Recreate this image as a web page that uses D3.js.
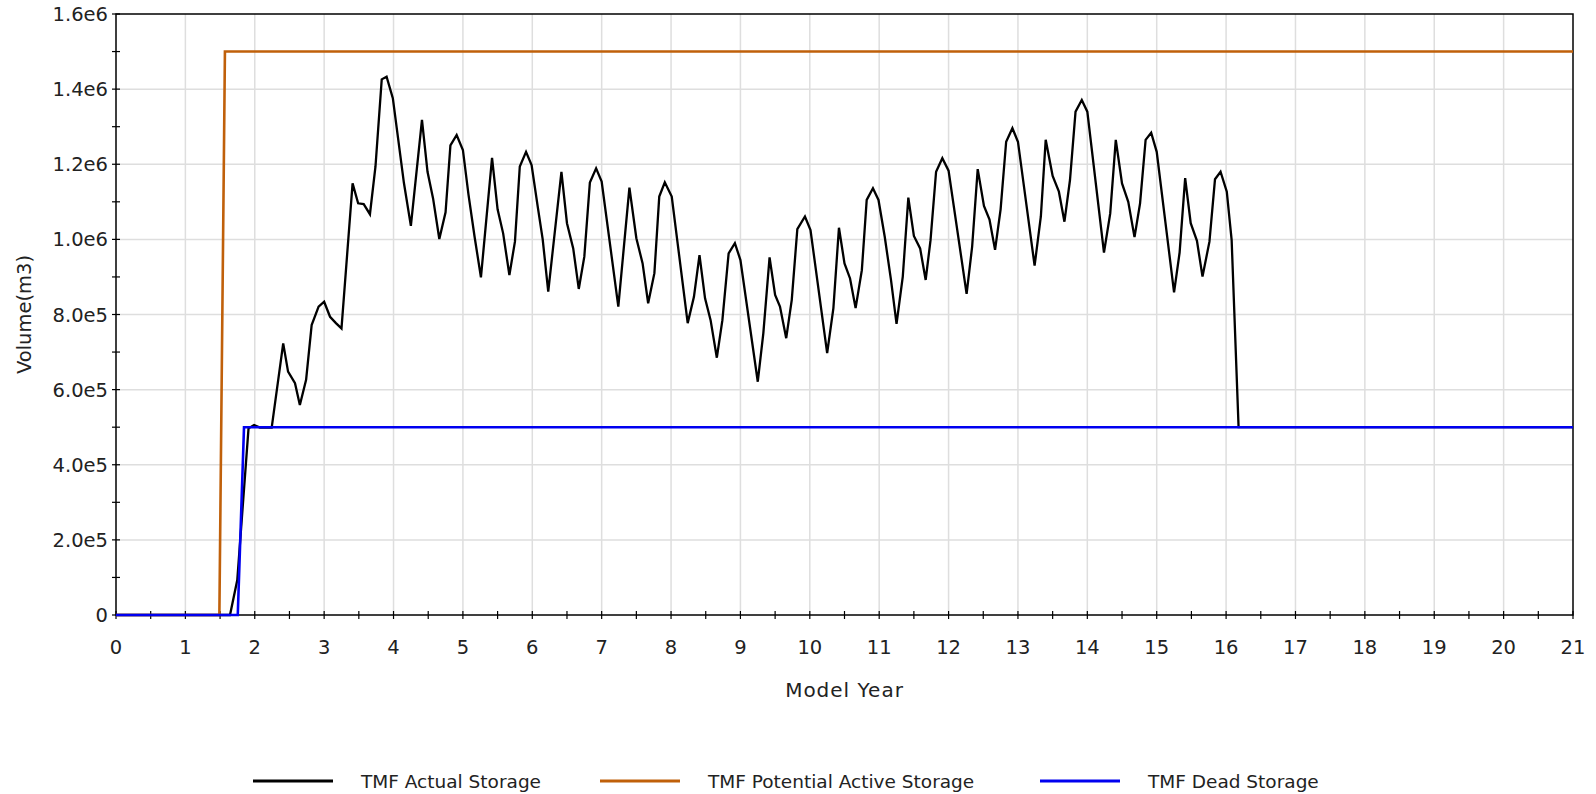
<!DOCTYPE html>
<html><head><meta charset="utf-8">
<script src="https://cdn.jsdelivr.net/npm/d3@7"></script>
<style>body{margin:0;background:#fff;} text{font-family:"DejaVu Sans",sans-serif;fill:#222;}</style>
</head><body><svg id="chart" width="1596" height="794"></svg>
<script>
// ---- data ----
const actualYears = [0,1.643,1.748,1.91,1.99,2.075,2.244,2.41,2.48,2.58,2.65,2.74,2.82,2.92,3.0,3.085,3.17,3.25,3.41,3.49,3.57,3.66,3.74,3.83,3.90,3.99,4.07,4.15,4.25,4.41,4.49,4.57,4.66,4.75,4.82,4.91,5.0,5.08,5.17,5.26,5.42,5.50,5.58,5.67,5.75,5.82,5.91,5.99,6.08,6.15,6.23,6.42,6.50,6.59,6.67,6.75,6.83,6.92,7.0,7.24,7.40,7.50,7.59,7.67,7.76,7.83,7.91,8.01,8.24,8.33,8.41,8.49,8.57,8.66,8.74,8.83,8.92,9.0,9.25,9.33,9.42,9.50,9.57,9.66,9.74,9.82,9.93,10.01,10.25,10.34,10.42,10.50,10.58,10.66,10.75,10.82,10.91,10.99,11.08,11.17,11.25,11.34,11.42,11.50,11.59,11.67,11.74,11.82,11.91,12.0,12.26,12.34,12.42,12.51,12.59,12.67,12.75,12.83,12.92,13.0,13.24,13.33,13.40,13.50,13.59,13.67,13.75,13.83,13.92,14.0,14.24,14.33,14.41,14.50,14.59,14.68,14.76,14.84,14.92,15.0,15.25,15.33,15.41,15.49,15.58,15.66,15.76,15.84,15.92,16.01,16.08,16.18,21];
const actualValues = [0,0,93000,497000,506000,499000,499000,723000,648000,617000,559000,626000,772000,821000,834000,794000,777000,763000,1149000,1096000,1094000,1067000,1194000,1426000,1433000,1376000,1263000,1150000,1036000,1318000,1180000,1109000,1001000,1072000,1250000,1278000,1238000,1120000,1005000,899000,1217000,1080000,1016000,905000,994000,1194000,1233000,1198000,1085000,1000000,861000,1180000,1043000,976000,868000,954000,1151000,1189000,1154000,821000,1138000,1003000,936000,830000,910000,1114000,1152000,1114000,777000,847000,958000,843000,785000,685000,785000,963000,990000,945000,621000,750000,952000,852000,821000,737000,839000,1027000,1061000,1025000,697000,817000,1031000,936000,896000,817000,918000,1105000,1136000,1105000,1007000,892000,775000,901000,1111000,1009000,976000,892000,998000,1180000,1216000,1183000,855000,981000,1187000,1089000,1053000,972000,1080000,1260000,1296000,1260000,930000,1061000,1265000,1169000,1127000,1047000,1158000,1340000,1371000,1340000,965000,1069000,1265000,1149000,1100000,1006000,1096000,1265000,1284000,1233000,859000,965000,1163000,1043000,996000,901000,994000,1160000,1180000,1127000,998000,500000,500000];
const activeYears = [0,1.49,1.57,21];
const activeValues = [0,0,1500000,1500000];
const deadYears = [0,1.755,1.845,21];
const deadValues = [0,0,500000,500000];
const seriesNames = ["TMF Actual Storage","TMF Potential Active Storage","TMF Dead Storage"];
const seriesColors = ["#000000","#c0600a","#0000f0"];
const xTickValues = d3.range(0,22,1);
const xMinorTicks = d3.range(0,21.01,0.5);
const yTickValues = d3.range(0,1600001,200000);
const yMinorTicks = d3.range(0,1600001,100000);

// ---- layout ----
const svg = d3.select("#chart");
const L=116, R=1573, T=14, B=615;
const x = d3.scaleLinear().domain([0,21]).range([L,R]);
const y = d3.scaleLinear().domain([0,1600000]).range([B,T]);
const fmt = v => { if(v===0) return "0"; const e=Math.floor(Math.log10(v)); return (v/Math.pow(10,e)).toFixed(1)+"e"+e; };

// grid
svg.append("g").selectAll("line").data(xTickValues.slice(1,-1)).join("line")
  .attr("x1",d=>x(d)).attr("x2",d=>x(d)).attr("y1",T).attr("y2",B)
  .attr("stroke","#dedede").attr("stroke-width",1.5);
svg.append("g").selectAll("line").data(yTickValues.slice(1,-1)).join("line")
  .attr("y1",d=>y(d)).attr("y2",d=>y(d)).attr("x1",L).attr("x2",R)
  .attr("stroke","#dedede").attr("stroke-width",1.5);

// frame
svg.append("rect").attr("x",L).attr("y",T).attr("width",R-L).attr("height",B-T)
  .attr("fill","none").attr("stroke","#000").attr("stroke-width",1.5);

// ticks
svg.append("g").selectAll("line").data(xMinorTicks).join("line")
  .attr("x1",d=>x(d)).attr("x2",d=>x(d)).attr("y1",B-4).attr("y2",B+4)
  .attr("stroke","#000").attr("stroke-width",1.2);
svg.append("g").selectAll("line").data(yMinorTicks).join("line")
  .attr("y1",d=>y(d)).attr("y2",d=>y(d)).attr("x1",L-4).attr("x2",L+4)
  .attr("stroke","#000").attr("stroke-width",1.2);

// tick labels
svg.append("g").selectAll("text").data(xTickValues).join("text")
  .attr("x",d=>x(d)).attr("y",B+39).attr("text-anchor","middle")
  .attr("font-size",19.5).text(d=>d);
svg.append("g").selectAll("text").data(yTickValues).join("text")
  .attr("x",L-8).attr("y",d=>y(d)+7).attr("text-anchor","end")
  .attr("font-size",19.5).text(fmt);

// axis titles
svg.append("text").attr("x",(L+R)/2).attr("y",697).attr("text-anchor","middle")
  .attr("font-size",20).attr("letter-spacing",1).text("Model Year");
svg.append("text").attr("transform",`translate(31,${(T+B)/2}) rotate(-90)`)
  .attr("text-anchor","middle").attr("font-size",19.5).text("Volume(m3)");

// lines
svg.append("clipPath").attr("id","clip").append("rect")
  .attr("x",L).attr("y",T-2).attr("width",R-L).attr("height",B-T+4);
const line = d3.line().x(d=>x(d[0])).y(d=>y(d[1]));
const series = [
  d3.zip(actualYears, actualValues),
  d3.zip(activeYears, activeValues),
  d3.zip(deadYears, deadValues)
];
const g = svg.append("g").attr("clip-path","url(#clip)");
series.forEach((s,i)=>{
  g.append("path").datum(s).attr("d",line).attr("fill","none")
   .attr("stroke",seriesColors[i]).attr("stroke-width",i===0?2.3:2.6)
   .attr("stroke-linejoin","miter");
});

// legend
const legX = [253,600,1040];
const leg = svg.append("g");
seriesNames.forEach((n,i)=>{
  leg.append("line").attr("x1",legX[i]).attr("x2",legX[i]+80).attr("y1",781).attr("y2",781)
    .attr("stroke",seriesColors[i]).attr("stroke-width",3);
  leg.append("text").attr("x",legX[i]+108).attr("y",788).attr("font-size",18.5).text(n);
});
</script></body></html>
